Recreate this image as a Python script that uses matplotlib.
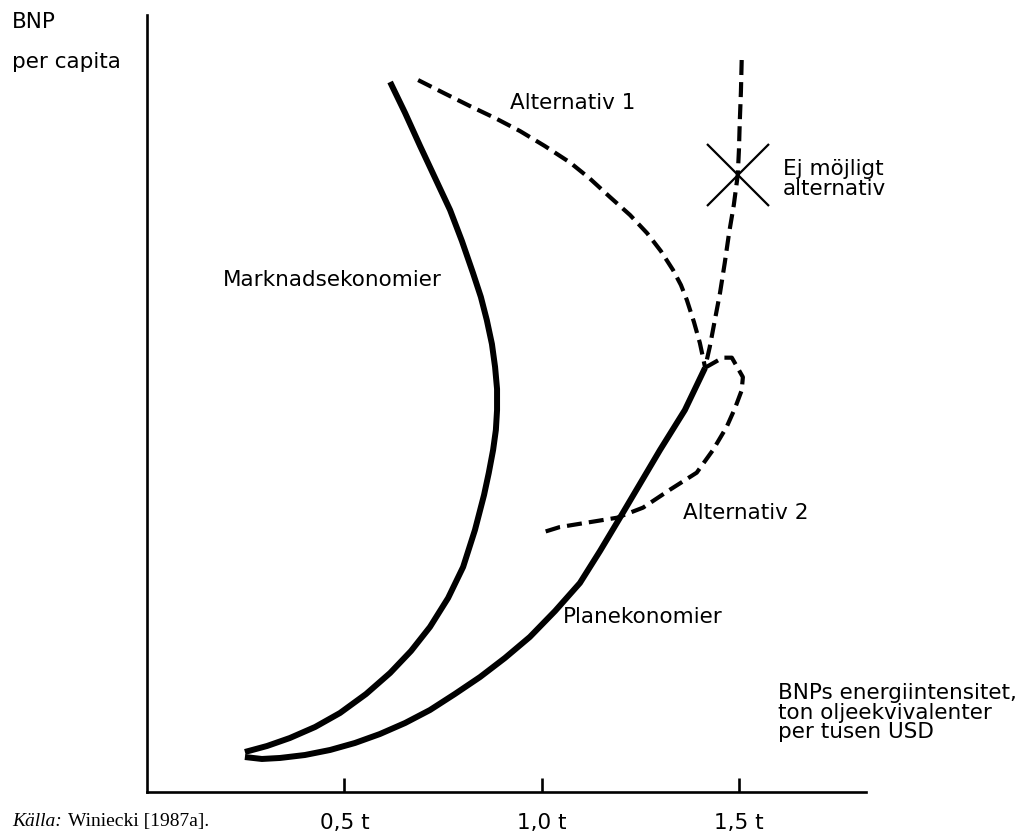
import matplotlib
matplotlib.use("Agg")
import matplotlib.pyplot as plt

# ── data (x: ton oljeekvivalenter per tusen USD, y: BNP per capita, godtycklig skala) ──
marknad_x = [0.616, 0.654, 0.692, 0.730, 0.768, 0.798, 0.826, 0.846, 0.861, 0.874,
             0.882, 0.887, 0.887, 0.884, 0.877, 0.866, 0.854, 0.831, 0.801, 0.763,
             0.717, 0.669, 0.616, 0.555, 0.489, 0.426, 0.362, 0.304, 0.248]
marknad_y = [91.38, 87.39, 83.14, 79.02, 74.90, 70.91, 66.80, 63.71, 60.75, 57.66,
             54.70, 51.87, 49.16, 46.59, 44.02, 41.06, 38.22, 33.72, 28.96, 24.97,
             21.24, 18.15, 15.32, 12.61, 10.17, 8.37, 6.95, 5.92, 5.15]

plan_x = [0.248, 0.291, 0.337, 0.400, 0.464, 0.527, 0.590, 0.654, 0.717, 0.780,
          0.844, 0.907, 0.970, 1.034, 1.097, 1.148, 1.198, 1.249, 1.300, 1.363, 1.414]
plan_y = [4.50, 4.25, 4.38, 4.76, 5.41, 6.31, 7.46, 8.88, 10.55, 12.61,
          14.80, 17.25, 19.95, 23.29, 26.90, 31.02, 35.26, 39.64, 44.02, 49.16, 54.57]

alt1_x = [0.687, 0.752, 0.818, 0.882, 0.945, 1.008, 1.072, 1.122, 1.173, 1.224,
          1.267, 1.302, 1.333, 1.353, 1.368, 1.386, 1.401, 1.414]
alt1_y = [91.63, 89.96, 88.29, 86.74, 85.07, 83.14, 81.02, 78.96, 76.58, 74.26,
          71.94, 69.63, 67.18, 65.25, 63.32, 60.49, 57.79, 54.70]

ej_x = [1.507, 1.505, 1.502, 1.500, 1.497, 1.487, 1.475, 1.464, 1.452, 1.439, 1.426, 1.414]
ej_y = [94.21, 90.09, 86.10, 82.63, 79.41, 75.55, 71.94, 68.08, 64.22, 60.75, 57.27, 54.57]

alt2_x = [1.414, 1.459, 1.482, 1.510, 1.507, 1.490, 1.469, 1.434, 1.393, 1.325,
          1.257, 1.191, 1.046, 1.008]
alt2_y = [54.6, 55.9, 55.9, 53.4, 51.7, 49.4, 47.0, 44.0, 41.1, 38.9,
          36.6, 35.3, 34.1, 33.5]

kryss_x, kryss_y = 1.497, 79.4   # "Ej möjligt alternativ"

xticks = [0.5, 1.0, 1.5]
xticklabels = ["0,5 t", "1,0 t", "1,5 t"]

FS = 15.5
fig = plt.figure(figsize=(10.24, 8.35), dpi=100)
ax = fig.add_axes([0.1436, 0.0515, 0.7021, 0.9305])
ax.set_xlim(0, 1.822)
ax.set_ylim(0, 100)

solid = dict(color="black", lw=4.3, solid_capstyle="butt", solid_joinstyle="round")
dash = dict(color="black", lw=3.0, dashes=(3.6, 1.7), dash_capstyle="butt")

ax.plot(marknad_x, marknad_y, **solid)
ax.plot(plan_x, plan_y, **solid)
ax.plot(alt1_x, alt1_y, **dash)
ax.plot(ej_x, ej_y, **dash)
ax.plot(alt2_x, alt2_y, **dash)
ax.plot([kryss_x], [kryss_y], marker="x", ms=44, mew=1.6, color="black", ls="none")

# etiketter
ax.text(0.920, 88.7, "Alternativ 1", fontsize=FS, va="center", ha="left")
ax.text(1.611, 78.9, "Ej möjligt\nalternativ", fontsize=FS, va="center", ha="left",
        linespacing=1.05)
ax.text(0.193, 65.9, "Marknadsekonomier", fontsize=FS, va="center", ha="left")
ax.text(1.358, 35.9, "Alternativ 2", fontsize=FS, va="center", ha="left")
ax.text(1.054, 22.5, "Planekonomier", fontsize=FS, va="center", ha="left")
ax.text(1.600, 10.2, "BNPs energiintensitet,\nton oljeekvivalenter\nper tusen USD",
        fontsize=FS, va="center", ha="left", linespacing=0.97)

# axlar
for s in ["top", "right"]:
    ax.spines[s].set_visible(False)
for s in ["left", "bottom"]:
    ax.spines[s].set_linewidth(1.9)
ax.set_yticks([])
ax.set_xticks(xticks)
ax.set_xticklabels(xticklabels, fontsize=FS)
ax.tick_params(axis="x", direction="in", length=10, width=1.9, pad=15)

fig.text(0.0117, 0.9737, "BNP", fontsize=FS, va="center", ha="left")
fig.text(0.0117, 0.9257, "per capita", fontsize=FS, va="center", ha="left")
fig.text(0.0117, 0.0156, "Källa:", fontsize=14, family="Liberation Serif",
         style="italic", va="center", ha="left")
fig.text(0.066, 0.0156, "Winiecki [1987a].", fontsize=14, family="Liberation Serif",
         va="center", ha="left")

fig.savefig("out.png", dpi=100)
